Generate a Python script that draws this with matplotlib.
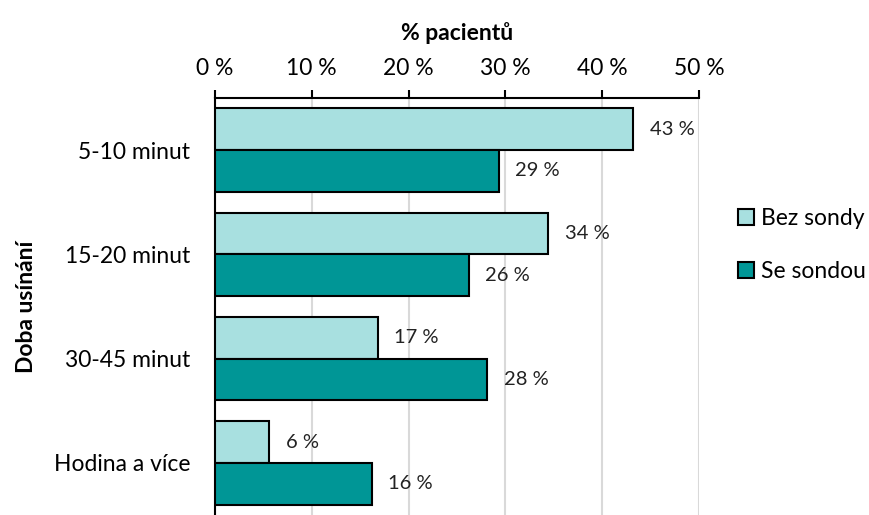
import numpy as np
import matplotlib
matplotlib.use("Agg")
import matplotlib.pyplot as plt

plt.rcParams['font.family'] = ['Lato', 'DejaVu Sans']

# data (percent of patients)
categories = ["5-10 minut", "15-20 minut", "30-45 minut", "Hodina a více"]
bez_sondy = [43.2, 34.4, 16.8, 5.6]
se_sondou = [29.3, 26.2, 28.1, 16.2]
series_names = ["Bez sondy", "Se sondou"]
x_ticks = [0, 10, 20, 30, 40, 50]

light = "#a8e0e0"
dark = "#009696"
fs = 16.5

fig = plt.figure(figsize=(8.69, 5.15), dpi=100)
ax = fig.add_axes([215 / 869, 0.0, (699 - 215) / 869, 1 - 98 / 515])

y = np.arange(len(categories))
h = 0.4
b1 = ax.barh(y - h / 2, bez_sondy, height=h, color=light, edgecolor="black",
             linewidth=1.5, label=series_names[0], zorder=3)
b2 = ax.barh(y + h / 2, se_sondou, height=h, color=dark, edgecolor="black",
             linewidth=1.5, label=series_names[1], zorder=3)

for bars, vals in ((b1, bez_sondy), (b2, se_sondou)):
    for bar, v in zip(bars, vals):
        ax.annotate(f"{round(v):d} %", (v, bar.get_y() + bar.get_height() / 2),
                    xytext=(12, 0), textcoords="offset points", va="center",
                    ha="left", fontsize=14.5, color="#222222")

ax.set_ylim(len(categories) - 0.5, -0.5)
ax.set_xlim(0, 50)
ax.set_yticks(y)
ax.set_yticklabels(categories, fontsize=fs)
ax.set_xticks(x_ticks)
ax.set_xticklabels([f"{t} %" for t in x_ticks], fontsize=fs)
ax.xaxis.tick_top()
ax.xaxis.set_label_position("top")
ax.tick_params(axis="x", direction="out", length=6, width=1.5, pad=8)
ax.tick_params(axis="y", length=0, pad=18)
ax.set_xlabel("% pacientů", fontsize=fs, fontweight="bold", labelpad=13)
ax.set_ylabel("Doba usínání", fontsize=fs, fontweight="bold", labelpad=12)

ax.grid(axis="x", color="#d9d9d9", linewidth=1.5, zorder=0)
for s in ("right", "bottom"):
    ax.spines[s].set_visible(False)
ax.spines["top"].set_linewidth(1.5)
ax.spines["left"].set_linewidth(1.5)

fig.legend(loc="center left", bbox_to_anchor=(717 / 869, 1 - 245 / 515),
           frameon=False, fontsize=fs, handlelength=0.7, handleheight=0.7,
           handletextpad=0.3, labelspacing=1.4)

fig.savefig("out.png", dpi=100)
